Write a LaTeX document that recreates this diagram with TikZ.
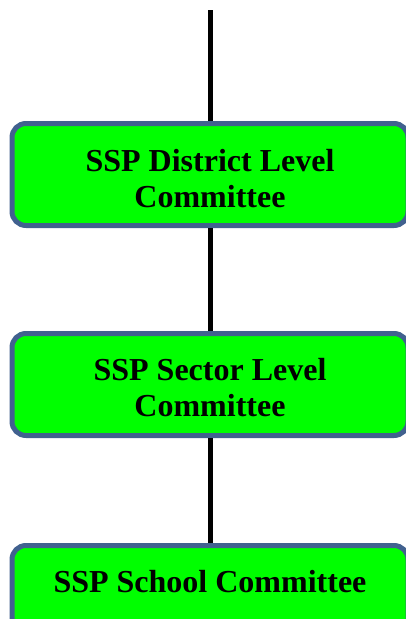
\documentclass[tikz,border=0pt]{standalone}
\usepackage{fontspec}
\setmainfont{Liberation Serif}
\definecolor{boxgreen}{HTML}{00FF00}
\definecolor{boxborder}{HTML}{41618F}
\tikzset{
  cbox/.style={draw=boxborder, fill=boxgreen, line width=5pt, rounded corners=14pt,
    minimum width=396pt, minimum height=102pt, inner sep=0pt},
  ctext/.style={inner sep=0pt, align=center, font=\fontsize{32}{36}\selectfont\bfseries},
  link/.style={line width=5pt, draw=black}
}
\begin{document}
\begin{tikzpicture}[x=1pt,y=-1pt]
\useasboundingbox (0,0) rectangle (406,619);
\clip (0,0) rectangle (406,619);
\coordinate (top) at (210,10);
\node[cbox] (district) at (210,174.5) {};
\node[ctext] (districttext) at (210,178.5) {SSP District Level\\Committee};
\node[cbox] (sector) at (210,384.5) {};
\node[ctext] (sectortext) at (210,387.5) {SSP Sector Level\\Committee};
\node[cbox] (school) at (210,596.5) {};
\node[ctext, anchor=base] (schooltext) at (210,592) {SSP School Committee};
\draw[link] (top) -- (district.north);
\draw[link] (district.south) -- (sector.north);
\draw[link] (sector.south) -- (school.north);
\end{tikzpicture}
\end{document}
